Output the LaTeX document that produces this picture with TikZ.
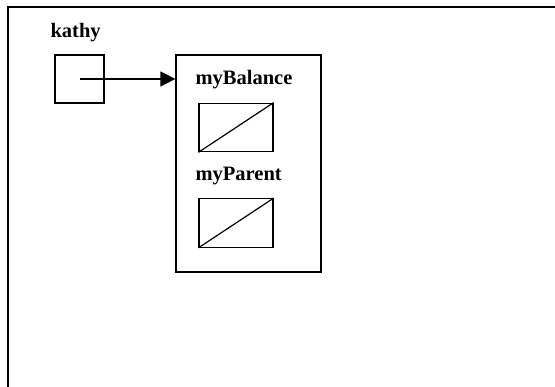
\documentclass[tikz,border=0pt]{standalone}
\usepackage{fontspec}
\setmainfont{Liberation Serif}
\usetikzlibrary{arrows.meta}
\begin{document}
\begin{tikzpicture}[x=1pt,y=-1pt,line width=1.2pt,
  lbl/.style={font=\fontsize{20.5}{23}\selectfont\bfseries,inner sep=0pt,anchor=base west},
  slot/.style={draw,inner sep=0pt,minimum width=74pt,minimum height=48.5pt}]
\useasboundingbox (0,0) rectangle (555,387);
\coordinate (ftop) at (555,7);
\coordinate (fcorner) at (8,7);
\coordinate (fbot) at (8,387);
\draw (ftop) -- (fcorner) -- (fbot);
\node[lbl] (kathy) at (50,37.5) {kathy};
\node[draw,inner sep=0pt,minimum width=49pt,minimum height=48pt] (kb) at (79.5,79) {};
\node[draw,inner sep=0pt,minimum width=145pt,minimum height=217pt] (obj) at (248.5,163.5) {};
\node[lbl] (bal) at (195,84.5) {myBalance};
\node[slot] (b1) at (236,127.5) {};
\draw (b1.south west) -- (b1.north east);
\node[lbl] (par) at (195,180.5) {myParent};
\node[slot] (b2) at (236,223) {};
\draw (b2.south west) -- (b2.north east);
\draw[-{Triangle[length=15pt,width=15pt]}] (kb.center) -- (obj.west |- kb.center);
\end{tikzpicture}
\end{document}
